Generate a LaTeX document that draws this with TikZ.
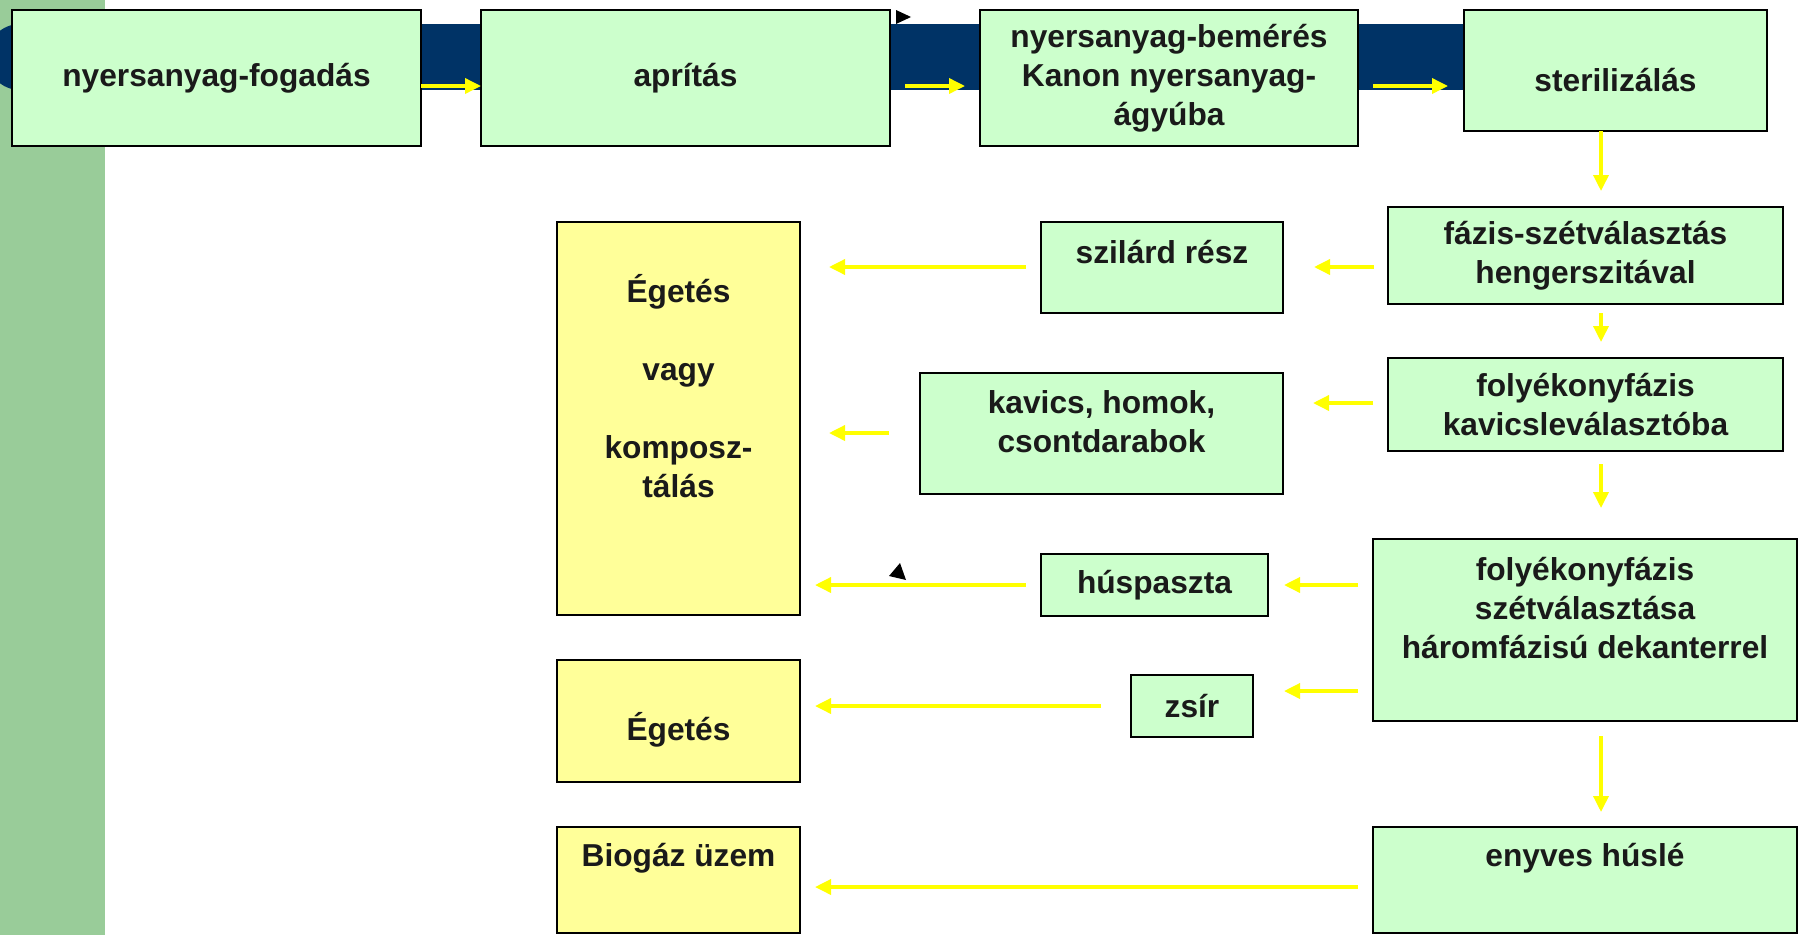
\documentclass[tikz,border=0pt]{standalone}
\usepackage{fontspec}
\setmainfont{Liberation Sans}
\usetikzlibrary{arrows.meta}
\definecolor{bandgreen}{HTML}{99CC99}
\definecolor{barblue}{HTML}{003366}
\definecolor{boxgreen}{HTML}{CCFFCC}
\definecolor{boxyellow}{HTML}{FFFF99}
\definecolor{arrowyellow}{HTML}{FFFF00}
\definecolor{ink}{HTML}{1A1A1A}
\begin{document}
\begin{tikzpicture}[x=1pt,y=-1pt,
  every node/.style={font=\bfseries\fontsize{31.7}{39}\selectfont, text=ink},
  gbox/.style={draw=black, line width=2.5pt, fill=boxgreen, outer sep=0pt, inner sep=0pt, align=center},
  ybox/.style={gbox, fill=boxyellow},
  lbl/.style={align=center, inner sep=0pt},
  flow/.style={draw=arrowyellow, line width=3.5pt, -{Triangle[length=16pt,width=15pt]}},
]
\useasboundingbox (0,0) rectangle (1806,935);
\clip (0,0) rectangle (1806,935);
\fill[white] (0,0) rectangle (1806,935);
% background band and bar
\fill[bandgreen] (0,0) rectangle (105,935);
\fill[barblue] (20,57) circle[radius=33];
\fill[barblue] (20,24) rectangle (1500,90);

% top row
\node[gbox, minimum width=409pt, minimum height=136pt] (b1) at (216.5,78) {nyersanyag-fogadás};
\node[gbox, minimum width=409pt, minimum height=136pt] (b2) at (685.5,78) {aprítás};
\node[gbox, minimum width=378pt, minimum height=136pt] (b3) at (1169,78) {nyersanyag-bemérés\\Kanon nyersanyag-\\ágyúba};
\node[gbox, minimum width=303pt, minimum height=121pt] (b4) at (1615.5,70.5) {};
\node[lbl] (t4) at (1615.5,80) {sterilizálás};

% right column
\node[gbox, minimum width=395pt, minimum height=97pt] (b5) at (1585.5,255.5) {fázis-szétválasztás\\hengerszitával};
\node[gbox, minimum width=395pt, minimum height=93pt] (b6) at (1585.5,404.5) {folyékonyfázis\\kavicsleválasztóba};
\node[gbox, minimum width=424pt, minimum height=182pt] (b7) at (1585,630) {};
\node[lbl] (t7) at (1585,608) {folyékonyfázis\\szétválasztása\\háromfázisú dekanterrel};
\node[gbox, minimum width=424pt, minimum height=106pt] (b8) at (1585,880) {};
\node[lbl] (t8) at (1585,858) {enyves húslé};

% middle column
\node[gbox, minimum width=242pt, minimum height=91pt] (b9) at (1162,267.5) {};
\node[lbl] (t9) at (1162,252) {szilárd rész};
\node[gbox, minimum width=363pt, minimum height=121pt] (b10) at (1101.5,433.5) {};
\node[lbl] (t10) at (1101.5,422) {kavics, homok,\\csontdarabok};
\node[gbox, minimum width=227pt, minimum height=62pt] (b11) at (1154.5,585) {húspaszta};
\node[gbox, minimum width=122pt, minimum height=62pt] (b12) at (1192,706) {zsír};

% left column
\node[ybox, minimum width=243pt, minimum height=393pt] (y1) at (678.5,418.5) {};
\node[lbl] (ty1) at (678.5,386) {Égetés\\[39pt]vagy\\[39pt]komposz-\\tálás};
\node[ybox, minimum width=243pt, minimum height=122pt] (y2) at (678.5,721) {};
\node[lbl] (ty2) at (678.5,730) {Égetés};
\node[ybox, minimum width=243pt, minimum height=106pt] (y3) at (678.5,880) {};
\node[lbl] (ty3) at (678.5,858) {Biogáz üzem};

% guide coordinates
\coordinate (col) at (1601,0);
\coordinate (rtop) at (0,86);
\coordinate (r1) at (0,267);
\coordinate (r2) at (0,403);
\coordinate (r3) at (0,433);
\coordinate (r4) at (0,585);
\coordinate (r5) at (0,691);
\coordinate (r6) at (0,706);
\coordinate (r7) at (0,887);

% connectors
\draw[flow] (b1.east |- rtop) -- (b2.west |- rtop);
\draw[flow, shorten <=15pt, shorten >=15pt] (b2.east |- rtop) -- (b3.west |- rtop);
\draw[flow, shorten <=15pt, shorten >=16pt] (b3.east |- rtop) -- (b4.west |- rtop);
\draw[flow, shorten >=16pt] (b4.south -| col) -- (b5.north -| col);
\draw[flow, shorten <=9pt, shorten >=16pt] (b5.south -| col) -- (b6.north -| col);
\draw[flow, shorten <=13pt, shorten >=31pt] (b6.south -| col) -- (b7.north -| col);
\draw[flow, shorten <=15pt, shorten >=15pt] (b7.south -| col) -- (b8.north -| col);
\draw[flow, shorten <=14pt, shorten >=31pt] (b5.west |- r1) -- (b9.east |- r1);
\draw[flow, shorten <=15pt, shorten >=29pt] (b9.west |- r1) -- (y1.east |- r1);
\draw[flow, shorten <=15pt, shorten >=30pt] (b6.west |- r2) -- (b10.east |- r2);
\draw[flow, shorten <=31pt, shorten >=29pt] (b10.west |- r3) -- (y1.east |- r3);
\draw[flow, shorten <=15pt, shorten >=16pt] (b7.west |- r4) -- (b11.east |- r4);
\draw[flow, shorten <=15pt, shorten >=15pt] (b11.west |- r4) -- (y1.east |- r4);
\draw[flow, shorten <=15pt, shorten >=31pt] (b7.west |- r5) -- (b12.east |- r5);
\draw[flow, shorten <=30pt, shorten >=15pt] (b12.west |- r6) -- (y2.east |- r6);
\draw[flow, shorten <=15pt, shorten >=15pt] (b8.west |- r7) -- (y3.east |- r7);

% stray black arrowheads
\fill[black] (896,10) -- (896,24) -- (911,17) -- cycle;
\fill[black] (900,563) -- (889,576) -- (906,580) -- cycle;
\end{tikzpicture}
\end{document}
